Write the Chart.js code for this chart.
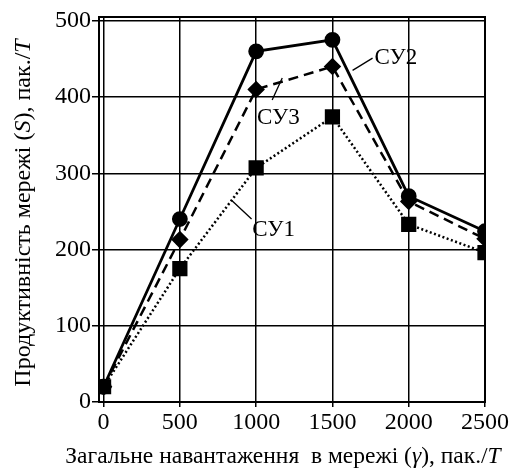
<!DOCTYPE html>
<html>
<head>
<meta charset="utf-8">
<script src="https://cdn.jsdelivr.net/npm/chart.js@4"></script>
<style>
  html, body { margin: 0; padding: 0; background: #fff; }
  #wrap { width: 510px; height: 474px; }
</style>
</head>
<body>
<div id="wrap"><canvas id="myChart" width="510" height="474"></canvas></div>
<script>
Chart.defaults.font.family = "'Liberation Serif', 'DejaVu Serif', serif";
Chart.defaults.font.size = 24;
Chart.defaults.color = "black";

const loads = [0, 500, 1000, 1500, 2000, 2500];
const su1 = [20, 175, 307, 374, 233, 196];
const su2 = [20, 240, 460, 475, 270, 224];
const su3 = [20, 213, 410, 440, 263, 214];
const xTicks = [0, 500, 1000, 1500, 2000, 2500];
const yTicks = [0, 100, 200, 300, 400, 500];

// labels with leader lines: [text, textX, textY, lineFromX, lineFromY, lineToX, lineToY] in data units
const callouts = [
  ['СУ2', 1775, 451, 1632, 435, 1763, 451],
  ['СУ3', 1005, 372, 1105, 396, 1171, 425],
  ['СУ1', 974, 226, 842, 264, 970, 240]
];

function pts(vals) {
  return loads.map((x, i) => ({x: x, y: vals[i]}));
}

function drawParts(ctx, parts, cx, cy, size) {
  let total = 0;
  parts.forEach(p => {
    ctx.font = p[1] + size + "px 'Liberation Serif'";
    total += ctx.measureText(p[0]).width;
  });
  let x = cx - total / 2;
  ctx.textAlign = 'left';
  parts.forEach(p => {
    ctx.font = p[1] + size + "px 'Liberation Serif'";
    ctx.fillText(p[0], x, cy);
    x += ctx.measureText(p[0]).width;
  });
}

const annotate = {
  id: 'annotate',
  afterDatasetsDraw(chart) {
    const ctx = chart.ctx;
    const xs = chart.scales.x, ys = chart.scales.y;
    ctx.save();
    ctx.strokeStyle = 'black';
    ctx.lineWidth = 1.3;
    ctx.fillStyle = 'black';
    ctx.font = "23px 'Liberation Serif'";
    ctx.textBaseline = 'middle';
    callouts.forEach(c => {
      ctx.beginPath();
      ctx.moveTo(xs.getPixelForValue(c[3]), ys.getPixelForValue(c[4]));
      ctx.lineTo(xs.getPixelForValue(c[5]), ys.getPixelForValue(c[6]));
      ctx.stroke();
      ctx.fillText(c[0], xs.getPixelForValue(c[1]), ys.getPixelForValue(c[2]));
    });
    ctx.restore();
  },
  afterDraw(chart) {
    const ctx = chart.ctx;
    ctx.save();
    ctx.fillStyle = 'black';
    ctx.textBaseline = 'middle';
    // x axis title with italic parts
    const xParts = [['Загальне навантаження  в мережі (', ''], ['γ', 'italic '], ['), пак./', ''], ['T', 'italic ']];
    drawParts(ctx, xParts, 283, 457, 23.5);
    // y axis title
    const yParts = [['Продуктивність мережі (', ''], ['S', 'italic '], ['), пак./', ''], ['T', 'italic ']];
    ctx.translate(24, 213);
    ctx.rotate(-Math.PI / 2);
    drawParts(ctx, yParts, 0, 0, 24);
    ctx.restore();
  }
};

const data = {
  datasets: [
    {
      label: 'СУ1',
      data: pts(su1),
      borderColor: 'black',
      backgroundColor: 'black',
      borderWidth: 2.5,
      borderDash: [2, 2.5],
      pointStyle: 'rect',
      pointRadius: 9,
      pointBackgroundColor: 'black',
      pointBorderColor: 'black'
    },
    {
      label: 'СУ3',
      data: pts(su3),
      borderColor: 'black',
      backgroundColor: 'black',
      borderWidth: 2.5,
      borderDash: [10, 6],
      pointStyle: 'rectRot',
      pointRadius: 7,
      pointBackgroundColor: 'black',
      pointBorderColor: 'black'
    },
    {
      label: 'СУ2',
      data: pts(su2),
      borderColor: 'black',
      backgroundColor: 'black',
      borderWidth: 2.8,
      pointStyle: 'circle',
      pointRadius: 6.5,
      pointBackgroundColor: 'black',
      pointBorderColor: 'black'
    }
  ]
};

const chartOptions = {
  responsive: false,
  animation: false,
  showLine: true,
  layout: { padding: { top: 17, right: 25, left: 0, bottom: 0 } },
  plugins: { legend: { display: false }, tooltip: { enabled: false } },
  scales: {
    x: {
      type: 'linear',
      min: -30,
      max: 2500,
      afterBuildTicks: s => { s.ticks = xTicks.map(v => ({value: v})); },
      afterFit: s => { s.height = 72; },
      grid: { color: 'black', lineWidth: 1.5, tickLength: 5, tickColor: 'black' },
      border: { color: 'black', width: 2 },
      ticks: { padding: 1, font: { size: 24 }, maxRotation: 0, callback: v => String(v) }
    },
    y: {
      min: 0,
      max: 505,
      afterBuildTicks: s => { s.ticks = yTicks.map(v => ({value: v})); },
      afterFit: s => { s.width = 99; },
      grid: { color: 'black', lineWidth: 1.5, tickLength: 7, tickColor: 'black' },
      border: { color: 'black', width: 2 },
      ticks: { padding: 1, font: { size: 24 }, callback: v => String(v) }
    },
    x2: {
      type: 'linear', position: 'top', min: 0, max: 1,
      ticks: { display: false }, grid: { display: false },
      border: { color: 'black', width: 2 },
      afterFit: s => { s.height = 0; }
    },
    y2: {
      type: 'linear', position: 'right', min: 0, max: 1,
      ticks: { display: false }, grid: { display: false },
      border: { color: 'black', width: 2 },
      afterFit: s => { s.width = 0; }
    }
  }
};

const myChart = new Chart(
  document.getElementById('myChart'), {
    type: 'scatter',
    data: data,
    options: chartOptions,
    plugins: [annotate]
  }
);
</script>
</body>
</html>
